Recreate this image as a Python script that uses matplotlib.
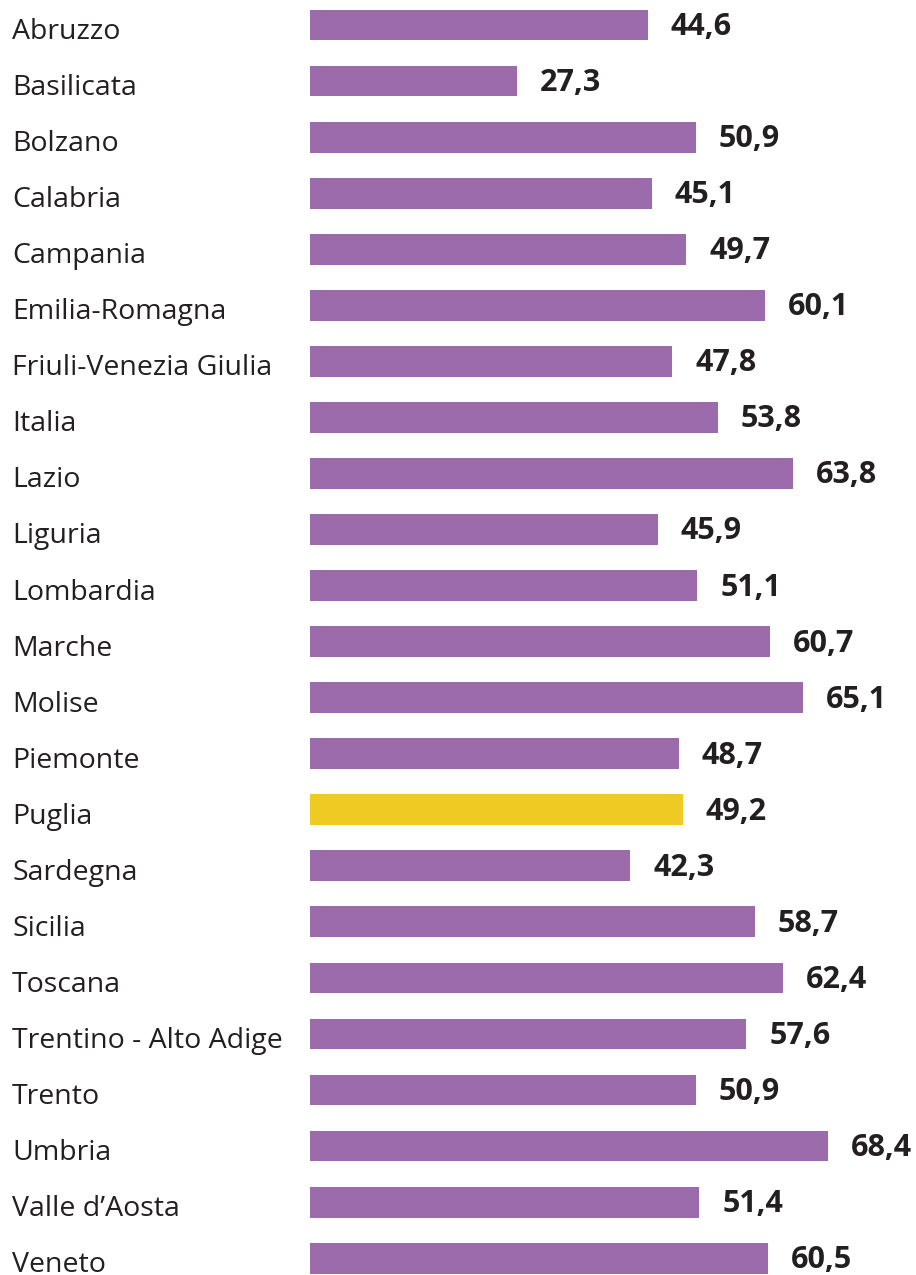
import matplotlib.pyplot as plt
from matplotlib import transforms

regions = [
    "Abruzzo", "Basilicata", "Bolzano", "Calabria", "Campania",
    "Emilia-Romagna", "Friuli-Venezia Giulia", "Italia", "Lazio",
    "Liguria", "Lombardia", "Marche", "Molise", "Piemonte", "Puglia",
    "Sardegna", "Sicilia", "Toscana", "Trentino - Alto Adige", "Trento",
    "Umbria", "Valle d\u2019Aosta", "Veneto",
]
values = [
    44.6, 27.3, 50.9, 45.1, 49.7, 60.1, 47.8, 53.8, 63.8, 45.9, 51.1,
    60.7, 65.1, 48.7, 49.2, 42.3, 58.7, 62.4, 57.6, 50.9, 68.4, 51.4, 60.5,
]
highlight = "Puglia"

PURPLE = "#9b6bac"
YELLOW = "#efca22"
TEXT = "#231f20"

plt.rcParams["font.family"] = ["Open Sans", "DejaVu Sans"]

fig = plt.figure(figsize=(9.16, 12.75), dpi=100)
ax = fig.add_axes([310 / 916, 0, 606 / 916, 1])

colors = [YELLOW if r == highlight else PURPLE for r in regions]
ypos = list(range(len(regions)))
ax.barh(ypos, values, height=0.55, color=colors)

ax.set_xlim(0, 80)
ax.set_ylim(len(regions) - 1 + 0.30, -0.446)
ax.axis("off")

# value labels a fixed pixel offset past the end of each bar
val_off = transforms.offset_copy(ax.transData, fig=fig, x=23, y=-10, units="dots")
for y, v in zip(ypos, values):
    ax.text(v, y, f"{v:.1f}".replace(".", ","), transform=val_off,
            ha="left", va="baseline", fontsize=22, fontweight="bold", color=TEXT)

# region names at the left edge of the figure
name_tr = transforms.blended_transform_factory(fig.transFigure, ax.transData)
name_off = transforms.offset_copy(name_tr, fig=fig, x=0, y=-14, units="dots")
for y, r in zip(ypos, regions):
    ax.text(12 / 916, y, r, transform=name_off, ha="left", va="baseline",
            fontsize=20.5, color=TEXT)

fig.savefig("out.png", dpi=100)
